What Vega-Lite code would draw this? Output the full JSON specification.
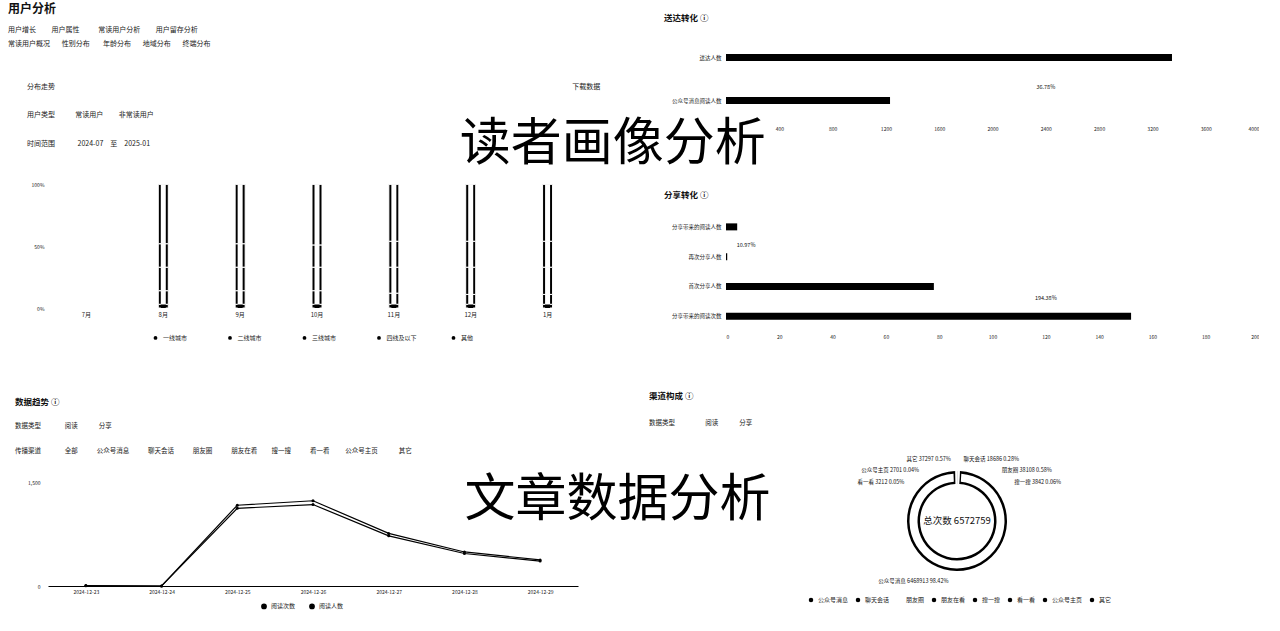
{
  "$schema": "https://vega.github.io/schema/vega-lite/v6.json",
  "background": "white",
  "padding": {"left": 8, "top": 2, "right": 0, "bottom": 0},
  "spacing": -122,
  "align": "none",
  "resolve": {"scale": {"color": "independent"}, "legend": {"color": "independent"}},
  "config": {
    "font": "Noto Sans CJK SC",
    "view": {"stroke": null},
    "axis": {"domain": false, "ticks": false, "grid": false, "labelColor": "#1a1a1a", "labelFontSize": 5.5},
    "legend": {"labelColor": "#1a1a1a", "labelFontSize": 6, "symbolType": "circle", "padding": 0},
    "title": {"color": "#111", "subtitleColor": "#1a1a1a", "anchor": "start", "frame": "group"}
  },
  "hconcat": [
    {
      "bounds": "flush",
      "spacing": 168,
      "resolve": {"scale": {"color": "independent"}, "legend": {"color": "independent"}},
      "vconcat": [
        {
          "width": 538,
          "height": 272,
          "title": {
            "text": "用户分析",
            "subtitle": [
              "用户增长\u3000\u3000\u00a0用户属性\u3000\u3000\u00a0\u00a0\u00a0常读用户分析\u3000\u3000\u00a0用户留存分析",
              "常读用户概况\u3000\u00a0\u00a0\u00a0性别分布\u3000\u00a0\u00a0\u00a0\u00a0年龄分布\u3000\u00a0\u00a0\u00a0地域分布\u3000\u00a0\u00a0\u00a0终端分布",
              "\u2800",
              "\u2800",
              "\u2800\u3000\u3000分布走势\u3000\u3000\u3000\u3000\u3000\u3000\u3000\u3000\u3000\u3000\u3000\u3000\u3000\u3000\u3000\u3000\u3000\u3000\u3000\u3000\u3000\u3000\u3000\u3000\u3000\u3000\u3000\u3000\u3000\u3000\u3000\u3000\u3000\u3000\u3000\u3000\u3000\u3000\u3000\u3000\u3000\u3000\u3000\u3000\u3000\u3000\u3000\u3000\u3000\u3000\u3000\u3000\u3000\u3000\u3000\u3000\u3000\u3000\u3000\u3000\u3000\u3000\u3000\u3000\u3000\u3000\u3000\u3000\u3000\u3000\u3000\u3000\u3000\u00a0\u00a0\u00a0\u00a0下载数据",
              "\u2800",
              "\u2800\u3000\u3000用户类型\u3000\u3000\u00a0\u00a0\u00a0\u00a0常读用户\u3000\u3000\u00a0非常读用户",
              "\u2800",
              "\u2800\u3000\u3000时间范围\u3000\u3000\u3000\u00a02024-07\u3000至\u30002025-01"
            ],
            "dx": -40,
            "offset": -112,
            "fontSize": 12,
            "fontWeight": "bold",
            "subtitleFontSize": 7,
            "subtitleLineHeight": 14.3,
            "subtitlePadding": 10
          },
          "layer": [
            {
              "data": {"values": [
                {"month": "8月", "city": "其他", "share": 3},
                {"month": "8月", "city": "四线及以下", "share": 11},
                {"month": "8月", "city": "三线城市", "share": 19},
                {"month": "8月", "city": "二线城市", "share": 19},
                {"month": "8月", "city": "一线城市", "share": 48},
                {"month": "9月", "city": "其他", "share": 3},
                {"month": "9月", "city": "四线及以下", "share": 11},
                {"month": "9月", "city": "三线城市", "share": 19},
                {"month": "9月", "city": "二线城市", "share": 19},
                {"month": "9月", "city": "一线城市", "share": 48},
                {"month": "10月", "city": "其他", "share": 3},
                {"month": "10月", "city": "四线及以下", "share": 11},
                {"month": "10月", "city": "三线城市", "share": 19},
                {"month": "10月", "city": "二线城市", "share": 18},
                {"month": "10月", "city": "一线城市", "share": 49},
                {"month": "11月", "city": "其他", "share": 3},
                {"month": "11月", "city": "四线及以下", "share": 9},
                {"month": "11月", "city": "三线城市", "share": 21},
                {"month": "11月", "city": "二线城市", "share": 21},
                {"month": "11月", "city": "一线城市", "share": 46},
                {"month": "12月", "city": "其他", "share": 3},
                {"month": "12月", "city": "四线及以下", "share": 8},
                {"month": "12月", "city": "三线城市", "share": 22},
                {"month": "12月", "city": "二线城市", "share": 21},
                {"month": "12月", "city": "一线城市", "share": 46},
                {"month": "1月", "city": "其他", "share": 3},
                {"month": "1月", "city": "四线及以下", "share": 8},
                {"month": "1月", "city": "三线城市", "share": 22},
                {"month": "1月", "city": "二线城市", "share": 21},
                {"month": "1月", "city": "一线城市", "share": 46}
              ]},
              "transform": [{"window": [{"op": "row_number", "as": "k"}]}],
              "layer": [
                {
                  "mark": {"type": "bar", "size": 10, "stroke": "white", "strokeWidth": 1},
                  "encoding": {
                    "x": {"field": "month", "type": "nominal", "title": null,
                      "scale": {"domain": ["7月", "8月", "9月", "10月", "11月", "12月", "1月"], "paddingInner": 0, "paddingOuter": 0},
                      "axis": {"labelAngle": 0, "labelPadding": 3, "labelFontSize": 6}},
                    "y": {"field": "share", "type": "quantitative", "stack": "normalize", "title": null,
                      "scale": {"domain": [0, 2.1085]},
                      "axis": {"values": [0, 0.5, 1], "format": "~%", "labelPadding": 4, "labelFontSize": 5}},
                    "color": {"field": "city", "type": "nominal",
                      "scale": {"domain": ["一线城市", "二线城市", "三线城市", "四线及以下", "其他"], "range": ["black", "black", "black", "black", "black"]},
                      "legend": {"title": null, "orient": "none", "legendX": 104, "legendY": 298, "direction": "horizontal", "columns": 5, "gridAlign": "all", "columnPadding": 29.5, "symbolSize": 28, "labelFontSize": 6}},
                    "order": {"field": "k", "type": "quantitative"}
                  }
                },
                {
                  "mark": {"type": "bar", "size": 5},
                  "encoding": {
                    "x": {"field": "month", "type": "nominal"},
                    "y": {"field": "share", "type": "quantitative", "stack": "normalize"},
                    "detail": {"field": "city", "type": "nominal"},
                    "order": {"field": "k", "type": "quantitative"},
                    "fill": {"condition": {"test": "datum.city === '其他'", "value": "black"}, "value": "white"}
                  }
                }
              ]
            },
            {
              "data": {"values": [{"t": "读者画像分析"}]},
              "mark": {"type": "text", "fontSize": 51, "align": "left", "baseline": "middle", "dx": -11, "color": "black"},
              "encoding": {
                "x": {"datum": "12月", "type": "nominal"},
                "y": {"datum": 1.318, "type": "quantitative"},
                "text": {"field": "t", "type": "nominal"}
              }
            }
          ]
        },
        {
          "width": 530,
          "height": 110,
          "title": {
            "text": "数据趋势 ⓘ",
            "subtitle": [
              "数据类型\u3000\u3000\u3000\u00a0\u00a0\u00a0阅读\u3000\u3000\u3000\u00a0分享",
              "传播渠道\u3000\u3000\u3000\u00a0\u00a0\u00a0全部\u3000\u3000\u00a0\u00a0\u00a0\u00a0公众号消息\u3000\u3000\u00a0\u00a0\u00a0\u00a0聊天会话\u3000\u3000\u00a0\u00a0\u00a0\u00a0朋友圈\u3000\u3000\u00a0\u00a0\u00a0\u00a0朋友在看\u3000\u3000\u00a0搜一搜\u3000\u3000\u00a0\u00a0\u00a0\u00a0看一看\u3000\u3000\u00a0\u00a0公众号主页\u3000\u3000\u3000\u00a0其它"
            ],
            "dx": -33,
            "offset": 20,
            "fontSize": 8.5,
            "fontWeight": "bold",
            "subtitleFontSize": 6.5,
            "subtitleLineHeight": 25,
            "subtitlePadding": 17
          },
          "layer": [
            {
              "data": {"values": [
                {"date": "2024-12-23", "series": "阅读次数", "value": 6},
                {"date": "2024-12-24", "series": "阅读次数", "value": 0},
                {"date": "2024-12-25", "series": "阅读次数", "value": 1175},
                {"date": "2024-12-26", "series": "阅读次数", "value": 1240},
                {"date": "2024-12-27", "series": "阅读次数", "value": 765},
                {"date": "2024-12-28", "series": "阅读次数", "value": 495},
                {"date": "2024-12-29", "series": "阅读次数", "value": 380},
                {"date": "2024-12-23", "series": "阅读人数", "value": 4},
                {"date": "2024-12-24", "series": "阅读人数", "value": 0},
                {"date": "2024-12-25", "series": "阅读人数", "value": 1130},
                {"date": "2024-12-26", "series": "阅读人数", "value": 1185},
                {"date": "2024-12-27", "series": "阅读人数", "value": 730},
                {"date": "2024-12-28", "series": "阅读人数", "value": 473},
                {"date": "2024-12-29", "series": "阅读人数", "value": 362}
              ]},
              "mark": {"type": "line", "strokeWidth": 1.2, "point": {"filled": true, "size": 9}},
              "encoding": {
                "x": {"field": "date", "type": "ordinal", "title": null,
                  "scale": {"domain": ["2024-12-23", "2024-12-24", "2024-12-25", "2024-12-26", "2024-12-27", "2024-12-28", "2024-12-29"]},
                  "axis": {"domain": true, "domainColor": "black", "domainWidth": 1, "labelAngle": 0, "labelPadding": 3, "labelFontSize": 5}},
                "y": {"field": "value", "type": "quantitative", "title": null,
                  "scale": {"domain": [0, 1500]},
                  "axis": {"values": [0, 500, 1000, 1500], "format": ",.0f", "labelPadding": 8, "labelFontSize": 5}},
                "color": {"field": "series", "type": "nominal",
                  "scale": {"domain": ["阅读次数", "阅读人数"], "range": ["black", "black"]},
                  "legend": {"title": null, "orient": "none", "legendX": 213, "legendY": 127, "direction": "horizontal", "columns": 2, "columnPadding": 10, "symbolType": "circle", "symbolSize": 18, "symbolFillColor": "black", "labelFontSize": 6}}
              }
            },
            {
              "data": {"values": [{"t": "文章数据分析"}]},
              "mark": {"type": "text", "fontSize": 51, "align": "left", "baseline": "middle", "color": "black"},
              "encoding": {
                "x": {"datum": "2024-12-28", "type": "ordinal"},
                "y": {"datum": 1241, "type": "quantitative"},
                "text": {"field": "t", "type": "nominal"}
              }
            }
          ]
        }
      ]
    },
    {
      "bounds": "flush",
      "spacing": 90,
      "resolve": {"scale": {"color": "independent"}, "legend": {"color": "independent"}},
      "vconcat": [
        {
          "width": 533,
          "height": 86,
          "title": {"text": "送达转化 ⓘ", "dx": -62, "offset": 14, "fontSize": 8.5, "fontWeight": "bold"},
          "layer": [
            {
              "data": {"values": [
                {"metric": "送达人数", "count": 3347},
                {"metric": "公众号消息阅读人数", "count": 1231}
              ]},
              "mark": {"type": "bar", "size": 7, "color": "black"},
              "encoding": {
                "y": {"field": "metric", "type": "nominal", "title": null,
                  "scale": {"domain": ["送达人数", "公众号消息阅读人数"], "paddingInner": 0, "paddingOuter": 0},
                  "axis": {"labelPadding": 5, "labelFontSize": 5.5}},
                "x": {"field": "count", "type": "quantitative", "title": null,
                  "scale": {"domain": [0, 4000]},
                  "axis": {"values": [400, 800, 1200, 1600, 2000, 2400, 2800, 3200, 3600, 4000], "format": "d", "labelPadding": 4, "labelFontSize": 5}}
              }
            },
            {
              "data": {"values": [{"rate": "36.78%"}]},
              "mark": {"type": "text", "fontSize": 5.5, "color": "#111"},
              "encoding": {
                "x": {"datum": 2400, "type": "quantitative"},
                "y": {"datum": "公众号消息阅读人数", "type": "nominal", "bandPosition": 0.19},
                "text": {"field": "rate", "type": "nominal"}
              }
            }
          ]
        },
        {
          "width": 533,
          "height": 119,
          "title": {"text": "分享转化 ⓘ", "dx": -62, "offset": 13, "fontSize": 8.5, "fontWeight": "bold"},
          "layer": [
            {
              "data": {"values": [
                {"metric": "分享带来的阅读人数", "count": 4.2},
                {"metric": "再次分享人数", "count": 0.46},
                {"metric": "首次分享人数", "count": 78},
                {"metric": "分享带来的阅读次数", "count": 152}
              ]},
              "mark": {"type": "bar", "size": 7, "color": "black"},
              "encoding": {
                "y": {"field": "metric", "type": "nominal", "title": null,
                  "scale": {"domain": ["分享带来的阅读人数", "再次分享人数", "首次分享人数", "分享带来的阅读次数"], "paddingInner": 0, "paddingOuter": 0},
                  "axis": {"labelPadding": 5, "labelFontSize": 5.5}},
                "x": {"field": "count", "type": "quantitative", "title": null,
                  "scale": {"domain": [0, 200]},
                  "axis": {"values": [0, 20, 40, 60, 80, 100, 120, 140, 160, 180, 200], "format": "d", "labelPadding": 3, "labelFontSize": 5}}
              }
            },
            {
              "data": {"values": [{"rate": "10.97%"}]},
              "mark": {"type": "text", "fontSize": 5.5, "align": "left", "color": "#111"},
              "encoding": {
                "x": {"datum": 4, "type": "quantitative"},
                "y": {"datum": "再次分享人数", "type": "nominal", "bandPosition": 0.1},
                "text": {"field": "rate", "type": "nominal"}
              }
            },
            {
              "data": {"values": [{"rate": "194.38%"}]},
              "mark": {"type": "text", "fontSize": 5.5, "color": "#111"},
              "encoding": {
                "x": {"datum": 120, "type": "quantitative"},
                "y": {"datum": "首次分享人数", "type": "nominal", "bandPosition": 0.9},
                "text": {"field": "rate", "type": "nominal"}
              }
            }
          ]
        },
        {
          "width": 462,
          "height": 200,
          "title": {
            "text": "渠道构成 ⓘ",
            "subtitle": "数据类型\u3000\u3000\u3000\u3000\u00a0\u00a0\u00a0阅读\u3000\u3000\u3000\u00a0分享",
            "dx": -77,
            "offset": -5,
            "fontSize": 8.5,
            "fontWeight": "bold",
            "subtitleFontSize": 6.5,
            "subtitlePadding": 19
          },
          "layer": [
            {
              "data": {"values": [
                {"channel": "聊天会话", "value": 18686, "label": "聊天会话 18686 0.28%"},
                {"channel": "朋友圈", "value": 38108, "label": "朋友圈 38108 0.58%"},
                {"channel": "搜一搜", "value": 3842, "label": "搜一搜 3842 0.06%"},
                {"channel": "公众号消息", "value": 6468913, "label": "公众号消息 6468913 98.42%"},
                {"channel": "看一看", "value": 3212, "label": "看一看 3212 0.05%"},
                {"channel": "公众号主页", "value": 2701, "label": "公众号主页 2701 0.04%"},
                {"channel": "其它", "value": 37297, "label": "其它 37297 0.57%"}
              ]},
              "transform": [{"window": [{"op": "row_number", "as": "k"}]}],
              "encoding": {
                "theta": {"field": "value", "type": "quantitative", "stack": true},
                "order": {"field": "k", "type": "quantitative"}
              },
              "layer": [
                {
                  "mark": {"type": "arc", "outerRadius": 50, "innerRadius": 37},
                  "encoding": {
                    "color": {"field": "channel", "type": "nominal",
                      "scale": {"domain": ["公众号消息", "聊天会话", "朋友圈", "朋友在看", "搜一搜", "看一看", "公众号主页", "其它"],
                        "range": ["black", "black", "white", "black", "black", "black", "black", "black"]},
                      "legend": {"title": null, "orient": "none", "legendX": 82, "legendY": 176, "direction": "horizontal", "columns": 8, "columnPadding": 6, "symbolSize": 20, "labelFontSize": 6}}
                  }
                },
                {
                  "mark": {"type": "arc", "outerRadius": 47.5, "innerRadius": 39.5, "padAngle": 0.05, "fill": "white"},
                  "encoding": {"detail": {"field": "channel", "type": "nominal"}}
                },
                {
                  "mark": {"type": "arc", "outerRadius": 52, "innerRadius": 35, "fill": "white"},
                  "encoding": {
                    "detail": {"field": "channel", "type": "nominal"},
                    "opacity": {"condition": {"test": "datum.channel === '公众号消息'", "value": 0}, "value": 1}
                  }
                },
                {
                  "mark": {"type": "text", "radius": 62, "align": "left", "dx": 6, "baseline": "middle", "fontSize": 5.5, "color": "#111"},
                  "encoding": {"detail": {"field": "channel", "type": "nominal"},
                    "text": {"condition": {"test": "datum.channel === '聊天会话'", "field": "label", "type": "nominal"}, "value": ""}}
                },
                {
                  "mark": {"type": "text", "radius": 51, "align": "left", "dx": 43, "baseline": "middle", "fontSize": 5.5, "color": "#111"},
                  "encoding": {"detail": {"field": "channel", "type": "nominal"},
                    "text": {"condition": {"test": "datum.channel === '朋友圈'", "field": "label", "type": "nominal"}, "value": ""}}
                },
                {
                  "mark": {"type": "text", "radius": 39, "align": "left", "dx": 55, "baseline": "middle", "fontSize": 5.5, "color": "#111"},
                  "encoding": {"detail": {"field": "channel", "type": "nominal"},
                    "text": {"condition": {"test": "datum.channel === '搜一搜'", "field": "label", "type": "nominal"}, "value": ""}}
                },
                {
                  "mark": {"type": "text", "radius": 39, "align": "right", "dx": -51, "baseline": "middle", "fontSize": 5.5, "color": "#111"},
                  "encoding": {"detail": {"field": "channel", "type": "nominal"},
                    "text": {"condition": {"test": "datum.channel === '看一看'", "field": "label", "type": "nominal"}, "value": ""}}
                },
                {
                  "mark": {"type": "text", "radius": 51, "align": "right", "dx": -36, "baseline": "middle", "fontSize": 5.5, "color": "#111"},
                  "encoding": {"detail": {"field": "channel", "type": "nominal"},
                    "text": {"condition": {"test": "datum.channel === '公众号主页'", "field": "label", "type": "nominal"}, "value": ""}}
                },
                {
                  "mark": {"type": "text", "radius": 62, "align": "right", "dx": -5, "baseline": "middle", "fontSize": 5.5, "color": "#111"},
                  "encoding": {"detail": {"field": "channel", "type": "nominal"},
                    "text": {"condition": {"test": "datum.channel === '其它'", "field": "label", "type": "nominal"}, "value": ""}}
                },
                {
                  "mark": {"type": "text", "radius": 60, "align": "right", "dx": -8, "baseline": "middle", "fontSize": 5.5, "color": "#111"},
                  "encoding": {"detail": {"field": "channel", "type": "nominal"},
                    "text": {"condition": {"test": "datum.channel === '公众号消息'", "field": "label", "type": "nominal"}, "value": ""}}
                }
              ]
            },
            {
              "data": {"values": [{"t": "总次数 6572759"}]},
              "mark": {"type": "text", "fontSize": 9.5, "color": "#111"},
              "encoding": {"text": {"field": "t", "type": "nominal"}}
            }
          ]
        }
      ]
    }
  ]
}
